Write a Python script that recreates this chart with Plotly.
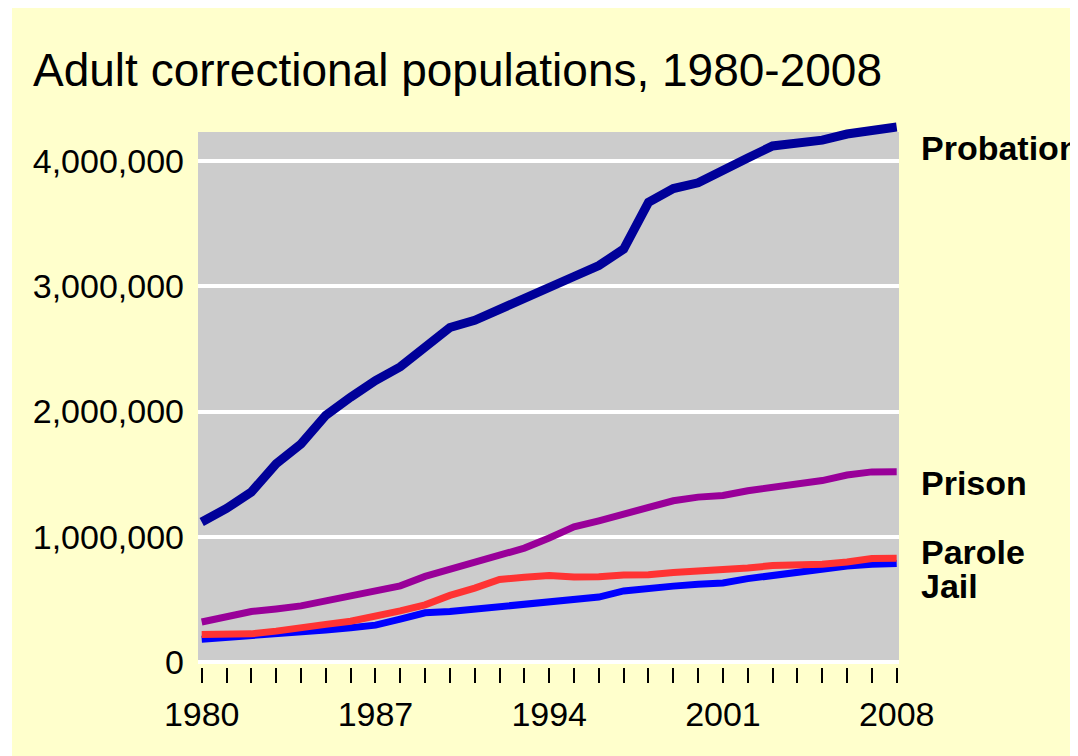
import plotly.graph_objects as go

years = list(range(1980, 2009))
probation = [1118097, 1225934, 1357264, 1582947, 1740948, 1968712, 2114621, 2247158, 2356483,
             2522125, 2670234, 2728472, 2811611, 2903061, 2981022, 3077861, 3164996, 3296513,
             3670441, 3779922, 3826209, 3931731, 4024067, 4120012, 4143792, 4166757, 4215361,
             4234471, 4270917]
prison = [319598, 360029, 402914, 423898, 448264, 487593, 526436, 562814, 607766, 683367,
          743382, 792535, 850566, 909381, 990147, 1078542, 1127528, 1176564, 1224469, 1287172,
          1316333, 1330007, 1367547, 1390279, 1421345, 1448344, 1492973, 1517867, 1518559]
parole = [220438, 225539, 224604, 246440, 266992, 300203, 325638, 362192, 407977, 456803,
          531407, 590442, 658601, 676100, 690371, 679421, 679733, 694787, 696385, 714457,
          723898, 732333, 750934, 769925, 771852, 780616, 798202, 826097, 828169]
jail = [182288, 195085, 207853, 221815, 233018, 254986, 272736, 294092, 341893, 393303,
        403019, 424129, 441781, 455500, 479800, 507044, 518492, 567079, 592462, 605943,
        621149, 631240, 665475, 691301, 713990, 747529, 765819, 780174, 785556]

x_tick_labels = ["1980", "1987", "1994", "2001", "2008"]
y_tick_vals = [0, 1000000, 2000000, 3000000, 4000000]
y_tick_labels = ["0", "1,000,000", "2,000,000", "3,000,000", "4,000,000"]

W, H = 1078, 756
ML, MR, MT, MB = 190, 187, 110, 97
PW, PH = W - ML - MR, H - MT - MB

FONT = "Liberation Sans, Arial, sans-serif"

fig = go.Figure()
series = [
    ("Jail", jail, "#0000FF", 7),
    ("Parole", parole, "#FF3333", 7),
    ("Prison", prison, "#990099", 7),
    ("Probation", probation, "#000099", 9),
]
for name, vals, color, width in series:
    fig.add_trace(go.Scatter(x=years, y=vals, mode="lines", name=name,
                             line=dict(color=color, width=width), showlegend=False))

label_shift = {"Probation": -21, "Prison": -11, "Parole": 6, "Jail": -22}
all_vals = {"Probation": probation, "Prison": prison, "Parole": parole, "Jail": jail}
for name, vals in all_vals.items():
    fig.add_annotation(x=years[-1], y=vals[-1], xref="x", yref="y", text=name,
                       showarrow=False, xanchor="left", yanchor="middle",
                       xshift=22, yshift=label_shift[name],
                       font=dict(family=FONT, size=34, color="#000000", weight="bold"))

ticktext_x = [str(y) if str(y) in x_tick_labels else "" for y in years]

# gray plotting panel (drawn as a shape so the probation line can rise above it)
fig.add_shape(type="rect", xref="paper", yref="paper", layer="below",
              x0=0, x1=1, y0=3 / PH, y1=(PH - 14) / PH,
              fillcolor="#CCCCCC", line=dict(width=0))
# thin white strip at the far left
fig.add_shape(type="rect", xref="paper", yref="paper", layer="below",
              x0=-ML / PW, x1=(4 - ML) / PW, y0=-MB / PH, y1=1 + MT / PH,
              fillcolor="#FFFFFF", line=dict(width=0))

fig.update_layout(
    width=W, height=H,
    margin=dict(l=ML, r=MR, t=MT, b=MB, pad=0),
    paper_bgcolor="#FFFFCC",
    plot_bgcolor="rgba(0,0,0,0)",
    title=dict(text="Adult correctional populations, 1980-2008",
               x=25 / W, xanchor="left", xref="container",
               y=1 - 62 / H, yanchor="middle", yref="container",
               font=dict(family=FONT, size=46, color="#000000")),
    xaxis=dict(range=[1979.851, 2008.093], tickmode="array", tickvals=years,
               ticktext=ticktext_x, ticks="outside", ticklen=15, tickwidth=2,
               tickcolor="#000000", showgrid=False, zeroline=False, showline=False,
               tickfont=dict(family=FONT, size=34, color="#000000"),
               ticklabelstandoff=2),
    yaxis=dict(range=[-39920, 4343300], tickmode="array", tickvals=y_tick_vals,
               ticktext=y_tick_labels, showgrid=True, gridcolor="#FFFFFF", gridwidth=4,
               zeroline=False, showline=False, ticks="",
               tickfont=dict(family=FONT, size=34, color="#000000"),
               ticklabelstandoff=13),
)

fig.write_html("out.html")
